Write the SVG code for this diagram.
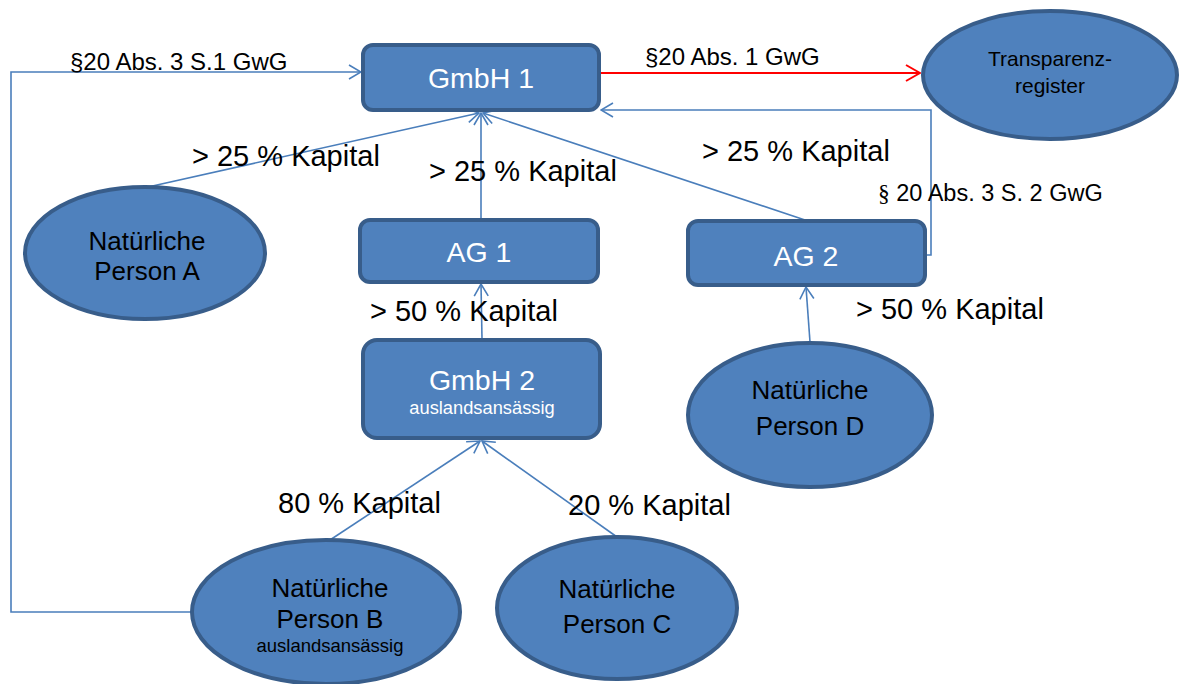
<svg xmlns="http://www.w3.org/2000/svg" width="1187" height="684" viewBox="0 0 1187 684">
<style>
.box{fill:#4F81BD;stroke:#385D8A;stroke-width:4}
.con{fill:none;stroke:#4A7EBB;stroke-width:1.6}
.red{fill:none;stroke:#FF0000;stroke-width:2}
text{font-family:"Liberation Sans",Arial,sans-serif}
.w{fill:#FFFFFF;text-anchor:middle;font-size:28.5px}
.b{fill:#000000;text-anchor:middle;font-size:26px}
.lbl{fill:#000000;font-size:29px}
.sl{fill:#000000;font-size:24px}
</style>
<defs>
<marker id="ab" viewBox="0 0 14 16" refX="13" refY="8" markerWidth="14" markerHeight="16" markerUnits="userSpaceOnUse" orient="auto">
<path d="M1,1 L13,8 L1,15" fill="none" stroke="#4A7EBB" stroke-width="1.6"/>
</marker>
<marker id="ar" viewBox="0 0 16 18" refX="15" refY="9" markerWidth="16" markerHeight="18" markerUnits="userSpaceOnUse" orient="auto">
<path d="M1,1 L15,9 L1,17" fill="none" stroke="#FF0000" stroke-width="2"/>
</marker>
</defs>
<rect width="1187" height="684" fill="#FFFFFF"/>
<g id="connectors">
<polyline class="con" points="192,612 11,612 11,72 361,72" marker-end="url(#ab)"/>
<line class="red" x1="601" y1="73" x2="920" y2="73" marker-end="url(#ar)"/>
<polyline class="con" points="927,255 931,255 931,110 601,110" marker-end="url(#ab)"/>
<line class="con" x1="148" y1="187" x2="479" y2="113" marker-end="url(#ab)"/>
<line class="con" x1="481" y1="219" x2="481" y2="113" marker-end="url(#ab)"/>
<line class="con" x1="805" y1="220" x2="483" y2="113" marker-end="url(#ab)"/>
<line class="con" x1="482" y1="339" x2="481" y2="284" marker-end="url(#ab)"/>
<line class="con" x1="810" y1="342" x2="806" y2="287" marker-end="url(#ab)"/>
<line class="con" x1="330" y1="540" x2="480" y2="441" marker-end="url(#ab)"/>
<line class="con" x1="617" y1="537" x2="482" y2="441" marker-end="url(#ab)"/>
</g>
<g id="labels">
<text class="sl" x="70" y="70">§20 Abs. 3 S.1 GwG</text>
<text class="sl" x="645" y="65">§20 Abs. 1 GwG</text>
<text class="lbl" x="192" y="166">&gt; 25 % Kapital</text>
<text class="lbl" x="429" y="181">&gt; 25 % Kapital</text>
<text class="lbl" x="702" y="161">&gt; 25 % Kapital</text>
<text class="sl" x="878" y="201" style="font-size:23.5px"><tspan font-family="'Liberation Serif',serif">§</tspan> 20 Abs. 3 S. 2 GwG</text>
<text class="lbl" x="370" y="321">&gt; 50 % Kapital</text>
<text class="lbl" x="856" y="319">&gt; 50 % Kapital</text>
<text class="lbl" x="278" y="513">80 % Kapital</text>
<text class="lbl" x="568" y="515">20 % Kapital</text>
</g>
<g id="gmbh1">
<rect class="box" x="363" y="45" width="236" height="65" rx="10"/>
<text class="w" x="481" y="88">GmbH 1</text>
</g>
<g id="transparenzregister">
<ellipse class="box" cx="1050" cy="75" rx="127" ry="64"/>
<text class="b" x="1050" y="66" style="font-size:21px">Transparenz-</text>
<text class="b" x="1050" y="93" style="font-size:21px">register</text>
</g>
<g id="personA">
<ellipse class="box" cx="145" cy="253" rx="120" ry="66"/>
<text class="b" x="147" y="250">Natürliche</text>
<text class="b" x="147" y="280">Person A</text>
</g>
<g id="ag1">
<rect class="box" x="360" y="220" width="238" height="62" rx="10"/>
<text class="w" x="479" y="262">AG 1</text>
</g>
<g id="ag2">
<rect class="box" x="688" y="221" width="237" height="64" rx="10"/>
<text class="w" x="806" y="266">AG 2</text>
</g>
<g id="gmbh2">
<rect class="box" x="363" y="340" width="237" height="98" rx="14"/>
<text class="w" x="482" y="390">GmbH 2</text>
<text class="w" x="482" y="414" style="font-size:18.3px">auslandsansässig</text>
</g>
<g id="personD">
<ellipse class="box" cx="810" cy="415" rx="122" ry="72"/>
<text class="b" x="810" y="399">Natürliche</text>
<text class="b" x="810" y="435">Person D</text>
</g>
<g id="personB">
<ellipse class="box" cx="326" cy="612" rx="134" ry="72"/>
<text class="b" x="330" y="597">Natürliche</text>
<text class="b" x="330" y="628">Person B</text>
<text class="b" x="330" y="652" style="font-size:18.5px">auslandsansässig</text>
</g>
<g id="personC">
<ellipse class="box" cx="617" cy="608" rx="120" ry="71"/>
<text class="b" x="617" y="598">Natürliche</text>
<text class="b" x="617" y="633">Person C</text>
</g>
</svg>
